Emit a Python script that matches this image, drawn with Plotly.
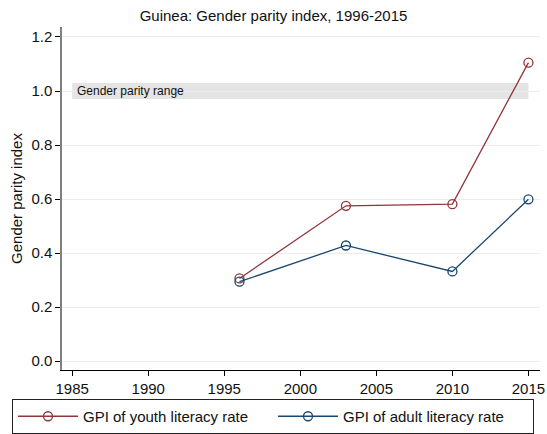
import plotly.graph_objects as go

years = [1996, 2003, 2010, 2015]
youth_gpi = [0.306, 0.575, 0.581, 1.105]
adult_gpi = [0.294, 0.428, 0.332, 0.599]
parity_low, parity_high = 0.97, 1.03
band_start, band_end = 1985, 2015
x_ticks = [1985, 1990, 1995, 2000, 2005, 2010, 2015]
y_ticks = [0.0, 0.2, 0.4, 0.6, 0.8, 1.0, 1.2]

red = "#90353b"
blue = "#1a476f"
font = "Liberation Sans, Arial, sans-serif"

W, H = 547, 434
ML, MR, MT, MB = 62, 7, 27, 64
pw, ph = W - ML - MR, H - MT - MB

fig = go.Figure()
fig.add_shape(type="rect", xref="x", yref="y", x0=band_start, x1=band_end,
              y0=parity_low, y1=parity_high, fillcolor="#e4e4e4",
              line=dict(width=0), layer="below")
fig.add_annotation(x=band_start, y=(parity_low + parity_high) / 2, xref="x", yref="y",
                   text="Gender parity range", showarrow=False, xanchor="left",
                   xshift=3, font=dict(size=12, color="#111111", family=font))

fig.add_trace(go.Scatter(x=years, y=youth_gpi, mode="lines+markers",
                         name="GPI of youth literacy rate",
                         line=dict(color=red, width=1.3),
                         marker=dict(symbol="circle-open", size=9, color=red,
                                     line=dict(width=1.3, color=red))))
fig.add_trace(go.Scatter(x=years, y=adult_gpi, mode="lines+markers",
                         name="GPI of adult literacy rate",
                         line=dict(color=blue, width=1.3),
                         marker=dict(symbol="circle-open", size=9, color=blue,
                                     line=dict(width=1.3, color=blue))))

fig.update_layout(
    width=W, height=H,
    margin=dict(l=ML, r=MR, t=MT, b=MB, autoexpand=False),
    paper_bgcolor="white", plot_bgcolor="white",
    font=dict(family=font, size=15, color="#111111"),
    title=dict(text="Guinea: Gender parity index, 1996-2015", x=0.5, xref="container",
               xanchor="center", y=1 - 16 / H, yanchor="middle",
               font=dict(size=15, color="#111111")),
    showlegend=True,
    legend=dict(orientation="h", xref="paper", yref="paper",
                x=(12 - ML) / pw, xanchor="left", y=-(399 - (H - MB)) / ph, yanchor="top",
                bordercolor="#222222", borderwidth=1, bgcolor="white",
                entrywidth=185, entrywidthmode="pixels",
                font=dict(size=15, color="#111111"), itemwidth=60),
)
fig.update_xaxes(range=[1984.33, 2015.76], tickvals=x_ticks,
                 ticktext=[str(t) for t in x_ticks], showgrid=False, zeroline=False,
                 showline=True, linecolor="#000000", linewidth=1,
                 ticks="outside", ticklen=5, tickcolor="#000000",
                 tickfont=dict(size=15), automargin=False)
fig.update_yaxes(range=[-0.033, 1.237], tickvals=y_ticks,
                 ticktext=[f"{t:.1f}" for t in y_ticks], showgrid=True,
                 gridcolor="#ececec", gridwidth=1, zeroline=False,
                 showline=True, linecolor="#808080", linewidth=1.5,
                 ticks="outside", ticklen=5, tickcolor="#000000",
                 tickfont=dict(size=15), automargin=False,
                 title=dict(text="Gender parity index", font=dict(size=15), standoff=5))

fig.write_html("out.html", config={"displayModeBar": False},
               post_script="document.body.style.margin='0';")
